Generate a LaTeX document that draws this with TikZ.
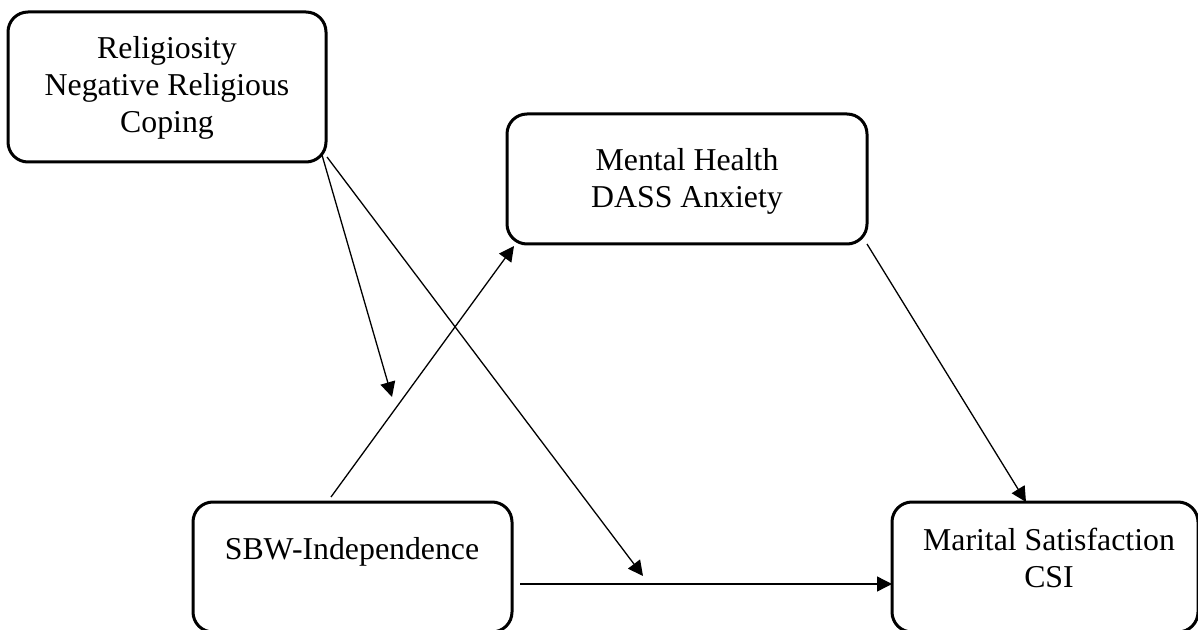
\documentclass[tikz,border=0pt]{standalone}
\usepackage{fontspec}
\setmainfont{Liberation Serif}
\usetikzlibrary{arrows.meta}
\begin{document}
\begin{tikzpicture}[x=0.5pt,y=-0.5pt,
  box/.style={draw, line width=1.5pt, rounded corners=10pt, outer sep=0pt, inner sep=0pt},
  txt/.style={align=center, font=\fontsize{15.9pt}{18.5pt}\selectfont, inner sep=0pt},
  arr/.style={line width=0.65pt, -{Triangle[length=7.5pt,width=7.5pt]}}]
\useasboundingbox (0,0) rectangle (1198,630);
\clip (0,0) rectangle (1198,630);
\fill[white] (0,0) rectangle (1198,630);
% boxes
\node[box, minimum width=159pt, minimum height=75pt] (rel) at (167,87) {};
\node[txt] (relt) at (167,88) {Religiosity\\Negative Religious\\Coping};
\node[box, minimum width=180pt, minimum height=65pt] (mh) at (687,179) {};
\node[txt] (mht) at (687,181) {Mental Health\\DASS Anxiety};
\node[box, minimum width=159.5pt, minimum height=65pt] (sbw) at (352.5,567) {};
\node[txt] (sbwt) at (352,552) {SBW-Independence};
\node[box, minimum width=153pt, minimum height=65pt] (mar) at (1045,567) {};
\node[txt] (mart) at (1049,557.5) {Marital Satisfaction\\CSI};
% moderation targets
\coordinate (m1) at (392,397);
\coordinate (m2) at (643,576);
% connectors
\draw[arr] ([xshift=-2pt,yshift=3.5pt]rel.south east) -- (m1);
\draw[arr] ([xshift=0.5pt,yshift=2.5pt]rel.south east) -- (m2);
\draw[arr] ([xshift=69pt,yshift=2.5pt]sbw.north west) -- ([xshift=3.5pt,yshift=-1pt]mh.south west);
\draw[arr] (mh.south east) -- ([xshift=67pt]mar.north west);
\draw[arr] ([xshift=4pt,yshift=-8.5pt]sbw.east) -- ([yshift=-8.5pt]mar.west);
\end{tikzpicture}
\end{document}
